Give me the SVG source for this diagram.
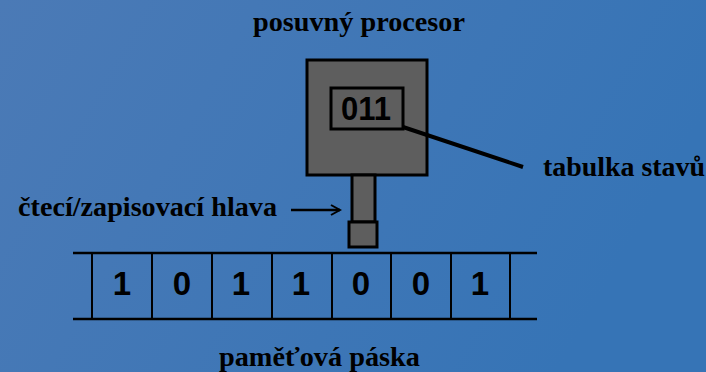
<svg xmlns="http://www.w3.org/2000/svg" width="706" height="372" viewBox="0 0 706 372">
<defs>
<linearGradient id="bg" x1="0" y1="0" x2="1" y2="0.3">
<stop offset="0" stop-color="#4b7ab6"/>
<stop offset="1" stop-color="#3674b6"/>
</linearGradient>
<marker id="chev" viewBox="0 0 12 12" refX="10" refY="6" markerWidth="12" markerHeight="12" markerUnits="userSpaceOnUse" orient="auto">
<path d="M1,1 L10,6 L1,11" fill="none" stroke="#000" stroke-width="2"/>
</marker>
</defs>
<style>
.lbl{font-family:"Liberation Serif","Times New Roman",serif;font-weight:bold;font-size:27px;fill:#000}
.dig{font-family:"Liberation Sans",Arial,sans-serif;font-weight:bold;font-size:33px;fill:#000;text-anchor:middle}
.box{fill:#5e5e5e;stroke:#000;stroke-width:3}
.tape{stroke:#000;stroke-width:2.5;fill:none}
.cell{stroke:#000;stroke-width:2;fill:none}
</style>
<rect width="706" height="372" fill="url(#bg)"/>
<g id="processor">
<rect class="box" x="307" y="60" width="120" height="115"/>
<rect x="331" y="88" width="72" height="41" fill="#5e5e5e" stroke="#000" stroke-width="3"/>
<text class="dig" x="366" y="120" textLength="50" lengthAdjust="spacingAndGlyphs">011</text>
</g>
<g id="head">
<rect class="box" x="352" y="175" width="23" height="47"/>
<rect class="box" x="349" y="222" width="28" height="25"/>
</g>
<g id="tape">
<line class="tape" x1="73" y1="253" x2="537" y2="253"/>
<line class="tape" x1="73" y1="319" x2="537" y2="319"/>
<line class="cell" x1="92" y1="253" x2="92" y2="319"/>
<line class="cell" x1="152" y1="253" x2="152" y2="319"/>
<line class="cell" x1="212" y1="253" x2="212" y2="319"/>
<line class="cell" x1="272" y1="253" x2="272" y2="319"/>
<line class="cell" x1="332" y1="253" x2="332" y2="319"/>
<line class="cell" x1="391" y1="253" x2="391" y2="319"/>
<line class="cell" x1="451" y1="253" x2="451" y2="319"/>
<line class="cell" x1="510" y1="253" x2="510" y2="319"/>
<text class="dig" x="122" y="295">1</text>
<text class="dig" x="182" y="295">0</text>
<text class="dig" x="241" y="295">1</text>
<text class="dig" x="301" y="295">1</text>
<text class="dig" x="361" y="295">0</text>
<text class="dig" x="421" y="295">0</text>
<text class="dig" x="480" y="295">1</text>
</g>
<g id="connectors">
<line x1="291" y1="210" x2="340" y2="210" stroke="#000" stroke-width="2.5" marker-end="url(#chev)"/>
<line x1="403" y1="127" x2="523" y2="167" stroke="#000" stroke-width="4"/>
</g>
<g id="labels">
<text class="lbl" x="253" y="31" textLength="212" lengthAdjust="spacingAndGlyphs">posuvný procesor</text>
<text class="lbl" x="18" y="216" textLength="259" lengthAdjust="spacingAndGlyphs">čtecí/zapisovací hlava</text>
<text class="lbl" x="543" y="176" textLength="162" lengthAdjust="spacingAndGlyphs">tabulka stavů</text>
<text class="lbl" x="219" y="366" textLength="201" lengthAdjust="spacingAndGlyphs">paměťová páska</text>
</g>
</svg>
